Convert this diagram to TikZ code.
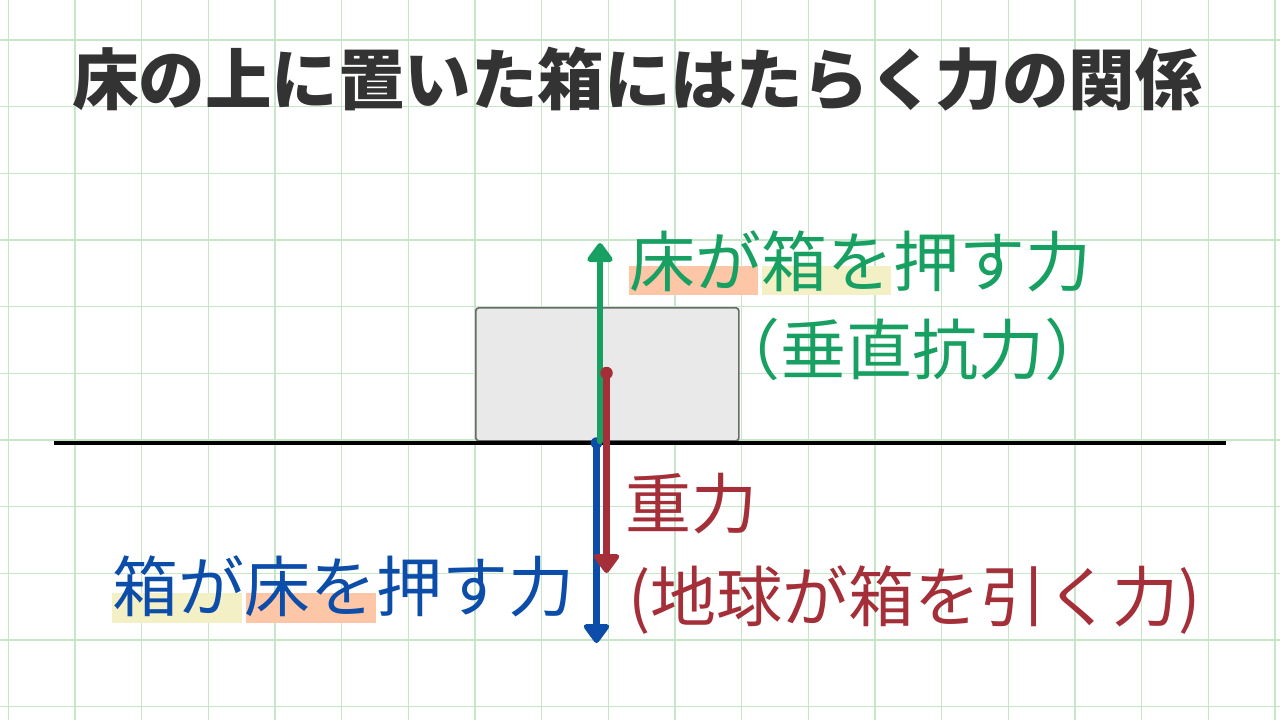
\documentclass[tikz,border=0pt]{standalone}
\usepackage{fontspec}
\setmainfont{Noto Sans CJK JP}
\usetikzlibrary{arrows.meta}
\definecolor{gridc}{HTML}{C6E6C8}
\definecolor{titlec}{HTML}{333333}
\definecolor{fgreen}{HTML}{17A062}
\definecolor{fred}{HTML}{A52F38}
\definecolor{fblue}{HTML}{0B4DA9}
\definecolor{hlo}{HTML}{FDC6A6}
\definecolor{hly}{HTML}{F4F0C6}
\definecolor{boxfill}{HTML}{E9E9E9}
\definecolor{boxline}{HTML}{6A6A6A}
\tikzset{
  gridline/.style={draw=gridc, line width=1.3pt},
  titlestyle/.style={inner sep=0pt, text=titlec, font=\fontsize{66.5}{70}\selectfont\bfseries},
  lbl/.style={inner sep=0pt, font=\fontsize{66}{70}\selectfont},
  hl/.style={inner sep=0pt, draw=none, anchor=north west},
  boxstyle/.style={draw=boxline, fill=boxfill, line width=1.7pt, rounded corners=3pt, inner sep=0pt, anchor=north west},
  groundline/.style={draw=black, line width=3.5pt},
  forcearrow/.style={line width=6.5pt, -{Triangle[length=21pt,width=29pt,round]}},
  dotstyle/.style={circle, inner sep=0pt, minimum size=12.5pt},
}
\begin{document}
\begin{tikzpicture}[x=1pt,y=-1pt]
\fill[white] (0,0) rectangle (1280,720);
\useasboundingbox (0,0) rectangle (1280,720);
\foreach \i in {0,...,19} \draw[gridline] ({8.33+66.667*\i},0) -- ++(0,720);
\foreach \j in {0,...,10} \draw[gridline] (0,{40+66.667*\j}) -- ++(1280,0);

\node[titlestyle, anchor=base] (title) at (637,104) {床の上に置いた箱にはたらく力の関係};

\node[boxstyle, minimum width=263pt, minimum height=133pt] (box) at (475,307) {};
\coordinate (gL) at (54,443);
\coordinate (gR) at (1226,443);
\draw[groundline] (gL) -- (gR);

% highlights
\node[hl, fill=hlo, minimum width=129pt, minimum height=29pt] (h1) at (629,266) {};
\node[hl, fill=hly, minimum width=129pt, minimum height=29pt] (h2) at (762,266) {};
\node[hl, fill=hly, minimum width=130pt, minimum height=30pt] (h3) at (112,593) {};
\node[hl, fill=hlo, minimum width=130pt, minimum height=30pt] (h4) at (246,593) {};

% blue arrow
\node[dotstyle, fill=fblue, minimum size=11.5pt] (bdot) at (596.5,443) {};
\coordinate (bend) at (596.5,643);
\draw[forcearrow, draw=fblue, fill=fblue] (bdot.center) -- (bend);

% green arrow
\coordinate (gstart) at (600,441);
\coordinate (gend) at (600,243);
\draw[forcearrow, draw=fgreen, fill=fgreen, line cap=round] (gstart) -- (gend);

% red arrow
\node[dotstyle, fill=fred] (rdot) at (606.5,373) {};
\coordinate (rend) at (606.5,573);
\draw[forcearrow, draw=fred, fill=fred] (rdot.center) -- (rend);

% labels
\node[lbl, text=fgreen, anchor=base west] (gt1) at (629,286) {床が箱を押す力};
\node[lbl, text=fgreen, anchor=base west] (gt2) at (714,374) {（垂直抗力）};
\node[lbl, text=fred, anchor=base west] (rt1) at (625,528) {重力};
\node[lbl, text=fred, anchor=base west] (rt2) at (628,621) {(地球が箱を引く力)};
\node[lbl, text=fblue, anchor=base west] (bt) at (112,611) {箱が床を押す力};
\end{tikzpicture}
\end{document}
